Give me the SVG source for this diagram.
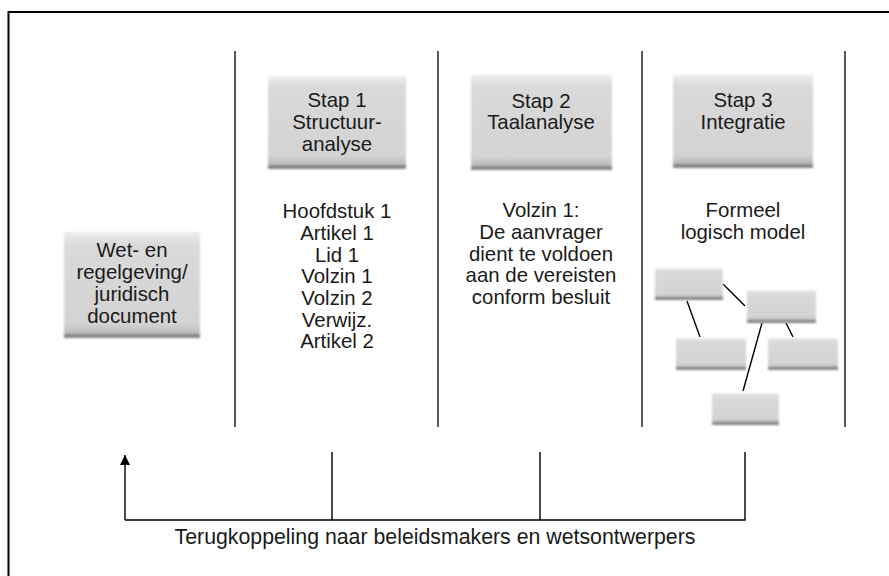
<svg xmlns="http://www.w3.org/2000/svg" width="889" height="576" viewBox="0 0 889 576">
<defs>
<style>
text{font-family:"Liberation Sans",Arial,sans-serif;font-size:20.4px;fill:#1a1a1a;text-anchor:middle}
.lbl{font-size:21.3px}
.div{stroke:#222;stroke-width:1.5;fill:none}
.con{stroke:#000;stroke-width:1.4;fill:none}
.sh{fill:#858585}
.bf{fill:url(#bg)}
.bx{filter:url(#soft)}
</style>
<linearGradient id="bg" x1="0" y1="0" x2="0" y2="1">
<stop offset="0" stop-color="#eeeeee"/>
<stop offset="0.12" stop-color="#dadada"/>
<stop offset="0.9" stop-color="#d3d3d3"/>
<stop offset="1" stop-color="#b8b8b8"/>
</linearGradient>
<filter id="soft" x="-10%" y="-10%" width="120%" height="120%">
<feGaussianBlur stdDeviation="1.3"/>
</filter>
<marker id="ah" markerWidth="10" markerHeight="10" refX="10" refY="5" orient="auto" markerUnits="userSpaceOnUse" viewBox="0 0 10 10">
<path d="M0,0 L10,5 L0,10 Z" fill="#000"/>
</marker>
</defs>
<rect width="889" height="576" fill="#fff"/>
<g id="frame">
<path d="M889,12 H8.5 V576" stroke="#000" stroke-width="2" fill="none"/>
</g>
<g id="dividers">
<line class="div" x1="235" y1="51" x2="235" y2="427"/>
<line class="div" x1="438" y1="51" x2="438" y2="427"/>
<line class="div" x1="642" y1="51" x2="642" y2="427"/>
<line class="div" x1="845" y1="51" x2="845" y2="427"/>
</g>
<g id="source">
<g class="bx"><rect class="sh" x="64" y="232" width="136" height="106"/><rect class="bf" x="64" y="232" width="136" height="102"/></g>
<text x="132" y="257">Wet- en</text>
<text x="132" y="279">regelgeving/</text>
<text x="132" y="301">juridisch</text>
<text x="132" y="323">document</text>
</g>
<g id="stap1">
<g class="bx"><rect class="sh" x="268" y="76" width="138" height="93"/><rect class="bf" x="268" y="76" width="138" height="89"/></g>
<text x="337" y="107">Stap 1</text>
<text x="337" y="129">Structuur-</text>
<text x="337" y="151">analyse</text>
</g>
<g id="stap2">
<g class="bx"><rect class="sh" x="471" y="75" width="141" height="95"/><rect class="bf" x="471" y="75" width="141" height="91"/></g>
<text x="541" y="108">Stap 2</text>
<text x="541" y="129">Taalanalyse</text>
</g>
<g id="stap3">
<g class="bx"><rect class="sh" x="673" y="75" width="140" height="93"/><rect class="bf" x="673" y="75" width="140" height="89"/></g>
<text x="743" y="107">Stap 3</text>
<text x="743" y="129">Integratie</text>
</g>
<g id="structuur">
<text x="337" y="218">Hoofdstuk 1</text>
<text x="337" y="240">Artikel 1</text>
<text x="337" y="261.5">Lid 1</text>
<text x="337" y="283">Volzin 1</text>
<text x="337" y="305">Volzin 2</text>
<text x="337" y="326.5">Verwijz.</text>
<text x="337" y="348">Artikel 2</text>
</g>
<g id="taal">
<text x="541" y="217">Volzin 1:</text>
<text x="541" y="239">De aanvrager</text>
<text x="541" y="260.5">dient te voldoen</text>
<text x="541" y="282">aan de vereisten</text>
<text x="541" y="304">conform besluit</text>
</g>
<g id="model">
<text x="743" y="217">Formeel</text>
<text x="743" y="239">logisch model</text>
<g id="m-lines">
<line class="con" x1="723" y1="284" x2="745" y2="306"/>
<line class="con" x1="687" y1="301" x2="700" y2="337"/>
<line class="con" x1="762" y1="323" x2="743" y2="391"/>
<line class="con" x1="786" y1="323" x2="793" y2="337"/>
</g>
<g id="m-a" class="bx"><rect class="sh" x="655" y="268" width="68" height="32"/><rect class="bf" x="655" y="268" width="68" height="29"/></g>
<g id="m-b" class="bx"><rect class="sh" x="747" y="290" width="69" height="33"/><rect class="bf" x="747" y="290" width="69" height="30"/></g>
<g id="m-c" class="bx"><rect class="sh" x="676" y="338" width="70" height="32"/><rect class="bf" x="676" y="338" width="70" height="29"/></g>
<g id="m-d" class="bx"><rect class="sh" x="768" y="338" width="70" height="32"/><rect class="bf" x="768" y="338" width="70" height="29"/></g>
<g id="m-e" class="bx"><rect class="sh" x="712" y="393" width="67" height="32"/><rect class="bf" x="712" y="393" width="67" height="29"/></g>
</g>
<g id="connectors">
<path class="con" d="M125,520 H745 V452" />
<line class="con" x1="125" y1="520" x2="125" y2="455" marker-end="url(#ah)"/>
<line class="con" x1="332" y1="452" x2="332" y2="520"/>
<line class="con" x1="540" y1="452" x2="540" y2="520"/>
<text class="lbl" x="435" y="544">Terugkoppeling naar beleidsmakers en wetsontwerpers</text>
</g>
</svg>
